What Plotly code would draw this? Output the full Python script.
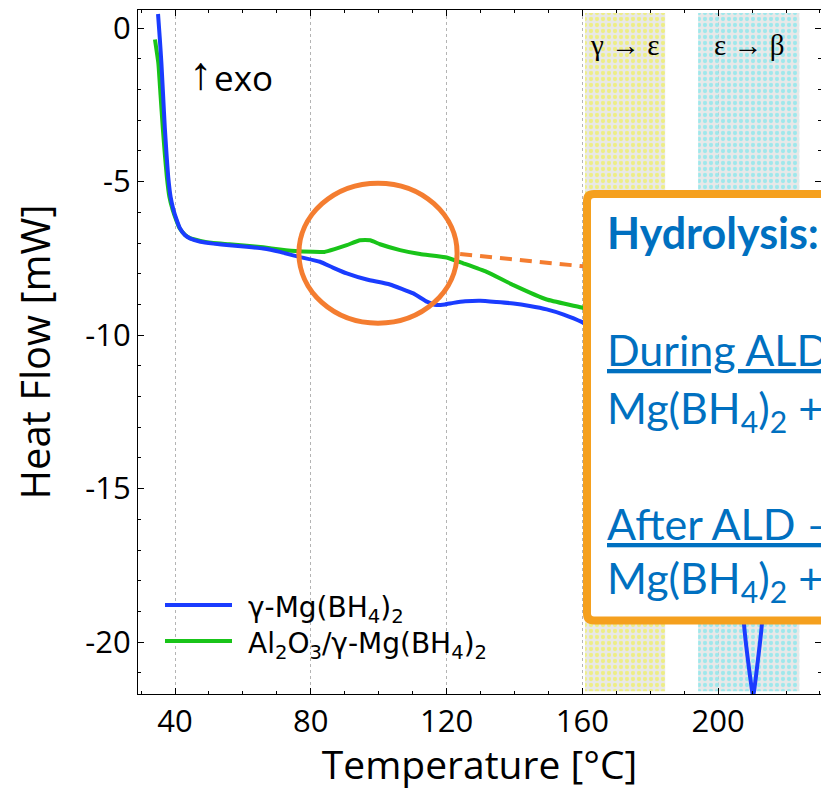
import plotly.graph_objects as go

# ---------------- data ----------------
blue_T = [35.0, 35.5, 36.0, 36.5, 37.0, 37.5, 38.0, 38.7, 39.5, 40.5, 41.5, 42.9, 44.4,
          47.5, 51.3, 56.0, 61.1, 66.0, 70.9, 76.5, 82.7, 86.5, 90.6, 96.5, 103.3, 110.2, 114.2,
          117.1, 119.5, 122.0, 125.5, 129.9, 134.8, 139.7, 144.5, 149.5, 154.5, 159.8, 165.0,
          170.0, 175.0, 180.0, 185.0, 190.0, 195.0, 200.0, 203.0, 205.5, 207.6, 208.8, 210.3,
          211.7, 212.9, 214.5, 217.0, 220.0, 225.0, 230.0]
blue_Q = [0.46, -0.30, -1.15, -2.20, -3.25, -4.10, -4.85, -5.50, -5.90, -6.25, -6.53,
          -6.74, -6.85, -6.96, -7.02, -7.07, -7.12, -7.18, -7.29, -7.45, -7.61, -7.80, -7.99,
          -8.19, -8.35, -8.64, -8.91, -9.02, -9.00, -8.95, -8.90, -8.88, -8.92, -8.97, -9.05,
          -9.16, -9.33, -9.57, -9.90, -10.20, -10.70, -10.90, -10.50, -10.60, -10.90, -11.40,
          -12.50, -15.00, -19.40, -20.60, -21.75, -20.60, -19.40, -15.50, -12.30, -11.60, -11.60,
          -11.80]

green_T = [34.1, 35.1, 35.75, 36.4, 37.0, 37.6, 38.35, 39.25, 40.35, 41.4, 42.9, 44.4,
           47.5, 51.3, 56.0, 61.1, 66.0, 70.9, 76.5, 82.7, 84.0, 87.0, 90.6, 94.5, 97.5, 100.4,
           106.3, 112.2, 120.0, 124.9, 131.8, 139.7, 149.5, 159.8, 165.0, 172.0, 178.0, 184.0,
           190.0, 196.0, 201.0, 205.0, 208.0, 210.5, 213.0, 218.0, 224.0, 230.0]
green_Q = [-0.37, -1.15, -2.20, -3.25, -4.10, -4.85, -5.50, -5.90, -6.25, -6.53, -6.73, -6.84,
           -6.93, -7.00, -7.04, -7.09, -7.14, -7.21, -7.27, -7.29, -7.29, -7.20,
           -7.07, -6.91, -6.91, -7.04, -7.23, -7.36, -7.47, -7.66, -7.94, -8.37, -8.84, -9.10,
           -9.30, -9.60, -10.00, -9.80, -9.90, -10.30, -11.00, -12.80, -14.60, -14.00, -11.80,
           -10.90, -10.90, -11.00]

series_names = ["γ-Mg(BH<sub>4</sub>)<sub>2</sub>",
                "Al<sub>2</sub>O<sub>3</sub>/γ-Mg(BH<sub>4</sub>)<sub>2</sub>"]

band_labels = ["γ → ε", "ε → β"]
band_start = [160.8, 194.1]
band_end = [184.4, 223.9]

x_ticks = [40, 80, 120, 160, 200]
y_ticks = [0, -5, -10, -15, -20]
y_ticktext = ["0", "-5", "-10", "-15", "-20"]

box_lines = ["<b>Hydrolysis:</b>", "<u>During ALD</u>", "Mg(BH<sub>4</sub>)<sub>2</sub> +",
             "<u>After ALD –</u>", "Mg(BH<sub>4</sub>)<sub>2</sub> +"]

# ---------------- layout helpers ----------------
W, H = 821, 790
ML, MR, MT, MB = 138, 0, 10, 96
PW, PH = W - ML - MR, H - MT - MB


def px_x(p):
    return (p - ML) / PW


def px_y(p):
    return 1 - (p - MT) / PH


BLUE = "#1a3cff"
GREEN = "#19c419"
ORANGE = "#f47d30"
BOXORANGE = "#f5a01e"
TXTBLUE = "#0070c0"
series_colors = [BLUE, GREEN]

fig = go.Figure()

# phase-transition bands (patterned)
band_fg = ["#f4f428", "#5ae8f0"]
for s, e, fg in zip(band_start, band_end, band_fg):
    fig.add_trace(go.Bar(
        x=[(s + e) / 2], width=[e - s], base=[-21.6], y=[0.49 + 21.6],
        marker=dict(color="rgba(226,226,226,0.75)", line=dict(width=0),
                    pattern=dict(shape=".", fgcolor=fg, bgcolor="rgba(224,224,224,0.72)",
                                 size=6, solidity=0.4)),
        showlegend=False, hoverinfo="skip"))

fig.add_trace(go.Scatter(x=green_T, y=green_Q, mode="lines", name=series_names[1],
                         line=dict(color=GREEN, width=4, shape="spline", smoothing=0.4),
                         showlegend=False))
fig.add_trace(go.Scatter(x=blue_T, y=blue_Q, mode="lines", name=series_names[0],
                         line=dict(color=BLUE, width=4, shape="spline", smoothing=0.4),
                         showlegend=False))

axis_common = dict(showline=True, linecolor="black", linewidth=1, mirror="ticks",
                   ticks="inside", ticklen=6, tickwidth=1, tickcolor="black",
                   tickfont=dict(family="Open Sans", size=31, color="black"),
                   zeroline=False)

fig.update_xaxes(range=[29.1, 230.3], tickvals=x_ticks, showgrid=True, gridcolor="#b4b4b4",
                 griddash="dot", gridwidth=1,
                 minor=dict(dtick=10, tick0=0, ticks="inside", ticklen=3, tickcolor="black",
                            showgrid=False),
                 title=dict(text="Temperature [°C]", font=dict(family="Open Sans", size=39,
                                                               color="black"), standoff=7),
                 **axis_common)
fig.update_yaxes(range=[-21.69, 0.59], tickvals=y_ticks, ticktext=y_ticktext, showgrid=False,
                 minor=dict(dtick=1, tick0=0, ticks="inside", ticklen=3, tickcolor="black"),
                 title=dict(text="Heat Flow [mW]", font=dict(family="Open Sans", size=40,
                                                             color="black"), standoff=22),
                 **axis_common)

shapes = []
# orange circle around the Al2O3 feature
shapes.append(dict(type="circle", xref="x", yref="y", x0=76.5, x1=123.1, y0=-5.05, y1=-9.61,
                   line=dict(color=ORANGE, width=5), layer="above"))
# dashed connector
shapes.append(dict(type="line", xref="x", yref="y", x0=124.0, y0=-7.36, x1=160.5, y1=-7.76,
                   line=dict(color=ORANGE, width=4, dash="12px,8px"), layer="above"))
# callout box with rounded corners (right side cropped by the figure edge)
bx0, bx1 = px_x(587), px_x(860)
by0, by1 = px_y(194), px_y(620.5)
rx, ry = 7 / PW, 7 / PH
path = (f"M{bx0 + rx},{by0} L{bx1},{by0} L{bx1},{by1} L{bx0 + rx},{by1} "
        f"Q{bx0},{by1} {bx0},{by1 + ry} L{bx0},{by0 - ry} Q{bx0},{by0} {bx0 + rx},{by0} Z")
shapes.append(dict(type="path", xref="paper", yref="paper", path=path, fillcolor="white",
                   line=dict(color=BOXORANGE, width=8), layer="above"))

annotations = []

# legend (key lines + one two-line label block)
legend_y = [605, 641]
for col, ly in zip(series_colors, legend_y):
    shapes.append(dict(type="line", xref="paper", yref="paper", x0=px_x(165), x1=px_x(232),
                       y0=px_y(ly), y1=px_y(ly), line=dict(color=col, width=4), layer="above"))
annotations.append(dict(text="<br>".join(series_names), xref="paper", yref="paper",
                        x=px_x(246), y=px_y(sum(legend_y) / 2 + 4), xanchor="left",
                        yanchor="middle", align="left", showarrow=False,
                        font=dict(family="DejaVu Sans", size=28, color="black")))

annotations.append(dict(text="↑", xref="paper", yref="paper", x=px_x(187), y=px_y(73),
                        xanchor="left", yanchor="middle", showarrow=False,
                        font=dict(family="Liberation Sans", size=46, color="black")))
annotations.append(dict(text="exo", xref="paper", yref="paper", x=px_x(212), y=px_y(77),
                        xanchor="left", yanchor="middle", showarrow=False,
                        font=dict(family="Open Sans", size=35, color="black")))
for lab, s, e in zip(band_labels, band_start, band_end):
    annotations.append(dict(text=lab, xref="x", yref="paper", x=(s + e) / 2, y=px_y(45),
                            xanchor="center", yanchor="middle", showarrow=False,
                            font=dict(family="Liberation Serif", size=29, color="black")))
line_y = [233, 350, 410, 523, 580]
for txt, yy in zip(box_lines, line_y):
    annotations.append(dict(text=txt, xref="paper", yref="paper", x=px_x(605), y=px_y(yy),
                            xanchor="left", yanchor="middle", showarrow=False, align="left",
                            font=dict(family="Lato", size=43, color=TXTBLUE)))

fig.update_layout(
    width=W, height=H, margin=dict(l=ML, r=MR, t=MT, b=MB, pad=0),
    plot_bgcolor="white", paper_bgcolor="white", barmode="overlay",
    shapes=shapes, annotations=annotations, showlegend=False,
    font=dict(family="Open Sans", color="black"),
)

fig.write_html("out.html")
